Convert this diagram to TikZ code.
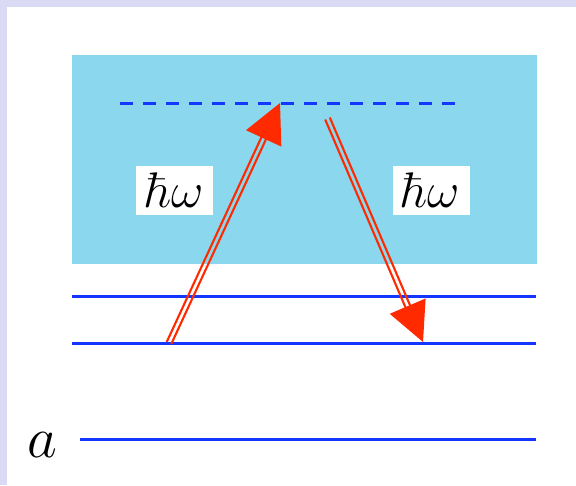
\documentclass[tikz,border=0pt]{standalone}
\usepackage{fix-cm}
\usetikzlibrary{calc}
\definecolor{lav}{RGB}{218,218,245}
\definecolor{skyc}{RGB}{138,215,238}
\definecolor{lvl}{RGB}{20,55,255}
\definecolor{arr}{RGB}{255,42,0}
\tikzset{
  level/.style={draw=lvl, line width=3pt},
  vlevel/.style={draw=lvl, line width=3pt, dash pattern=on 13pt off 10pt},
  shaft/.style={draw=arr, line width=2.1pt, shorten >=36pt},
  lbl/.style={fill=white, inner sep=0pt, minimum width=77pt, minimum height=49pt, font=\fontsize{50}{54}\selectfont},
}
\begin{document}
\begin{tikzpicture}[x=1pt,y=-1pt]
\useasboundingbox (0,0) rectangle (576,485);
\fill[lav] (0,0) rectangle (576,485);
\fill[white] (7,7) rectangle (576,485);
\fill[skyc] (72,55) rectangle (537,264);
% levels
\coordinate (v1) at (120,103); \coordinate (v2) at (457,103);
\draw[vlevel] (v1) -- (v2);
\coordinate (l1a) at (72,296); \coordinate (l1b) at (536,296);
\coordinate (l2a) at (72,343); \coordinate (l2b) at (536,343);
\coordinate (l3a) at (80,439); \coordinate (l3b) at (536,439);
\draw[level] (l1a) -- (l1b);
\draw[level] (l2a) -- (l2b);
\draw[level] (l3a) -- (l3b);
\node[font=\fontsize{58}{62}\selectfont, anchor=base] (alab) at (42,457) {$a$};
% arrows
\coordinate (A1) at (169,343); \coordinate (B1) at (280,103);
\coordinate (A2) at (327.5,118.5); \coordinate (B2) at (423,342);
\foreach \A/\B in {A1/B1, A2/B2}{
  \draw[shaft] ($(\A)!2.5pt!90:(\B)$) -- ($(\B)!2.5pt!-90:(\A)$);
  \draw[shaft] ($(\A)!2.5pt!-90:(\B)$) -- ($(\B)!2.5pt!90:(\A)$);
  \coordinate (C) at ($(\B)!39pt!(\A)$);
  \fill[arr] (\B) -- ($(C)!19.5pt!90:(\B)$) -- ($(C)!19.5pt!-90:(\B)$) -- cycle;
}
\node[lbl] (h1) at (174.5,190) {$\hbar\omega$};
\node[lbl] (h2) at (431,190.5) {$\hbar\omega$};
\end{tikzpicture}
\end{document}
